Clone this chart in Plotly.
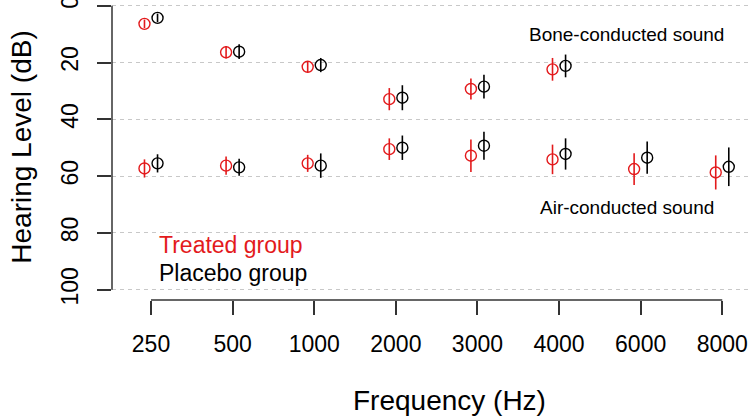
import plotly.graph_objects as go

freq_labels = ["250", "500", "1000", "2000", "3000", "4000", "6000", "8000"]

treated_bone = [6.4, 16.4, 21.5, 32.9, 29.3, 22.4]
treated_bone_err = [1.5, 2.2, 2.0, 3.9, 3.7, 4.0]
placebo_bone = [4.3, 16.2, 20.9, 32.4, 28.5, 21.2]
placebo_bone_err = [1.5, 2.6, 2.5, 4.4, 4.2, 4.0]

treated_air = [57.3, 56.3, 55.5, 50.5, 52.8, 54.1, 57.5, 58.7]
treated_air_err = [3.2, 3.2, 3.0, 3.8, 5.7, 5.2, 5.6, 6.0]
placebo_air = [55.5, 56.9, 56.3, 50.0, 49.3, 52.2, 53.5, 56.7]
placebo_air_err = [3.2, 3.0, 4.3, 4.3, 4.9, 5.5, 5.7, 6.8]

y_ticks = [0, 20, 40, 60, 80, 100]

RED = "#E31A1C"
BLACK = "#000000"
FONT = "Liberation Sans, Arial, Helvetica, sans-serif"
OFF = 0.08

pos = list(range(1, len(freq_labels) + 1))

fig = go.Figure()


def add_series(vals, errs, color, shift):
    xs = [pos[i] + shift for i in range(len(vals))]
    fig.add_trace(go.Scatter(
        x=xs, y=vals, mode="markers",
        marker=dict(symbol="circle-open", size=11, color=color,
                    line=dict(width=1.4, color=color)),
        error_y=dict(type="data", array=errs, visible=True,
                     color=color, thickness=1.6, width=0),
        showlegend=False, hoverinfo="skip",
    ))


add_series(treated_bone, treated_bone_err, RED, -OFF)
add_series(placebo_bone, placebo_bone_err, BLACK, OFF)
add_series(treated_air, treated_air_err, RED, -OFF)
add_series(placebo_air, placebo_air_err, BLACK, OFF)

fig.update_layout(
    width=753, height=416,
    margin=dict(l=112, r=3, t=2, b=116),
    plot_bgcolor="white", paper_bgcolor="white",
    font=dict(family=FONT, color="black"),
    xaxis=dict(
        range=[0.522, 8.34], tickmode="array", tickvals=pos,
        ticktext=freq_labels, ticks="outside", ticklen=14, tickwidth=1.5,
        tickcolor="#333333", showgrid=False, zeroline=False, showline=False,
        tickfont=dict(size=23, family=FONT), ticklabelstandoff=9,
        automargin=False, ticklabeloverflow="allow",
    ),
    yaxis=dict(
        range=[103.6, -1.3], tickmode="array", tickvals=y_ticks,
        ticks="outside", ticklen=14, tickwidth=1.5, tickcolor="#333333",
        showgrid=True, gridcolor="#C8C8C8", griddash="4px,4px", gridwidth=1,
        zeroline=False, showline=False, tickangle=-90,
        tickfont=dict(size=23, family=FONT), ticklabelstandoff=10,
        automargin=False, ticklabeloverflow="allow",
    ),
    shapes=[
        dict(type="line", xref="paper", yref="y", x0=0, x1=0, y0=0, y1=100,
             line=dict(color="#333333", width=1.5)),
        dict(type="line", xref="x", yref="paper", x0=1, x1=8, y0=0, y1=0,
             line=dict(color="#333333", width=1.5)),
    ],
    annotations=[
        dict(text="Bone-conducted sound", x=6.83, y=10.3, xref="x", yref="y",
             showarrow=False, font=dict(size=19, family=FONT, color="black")),
        dict(text="Air-conducted sound", x=6.83, y=70.9, xref="x", yref="y",
             showarrow=False, font=dict(size=19, family=FONT, color="black")),
        dict(text="Treated group", x=1 + (157 - 151) / 81.6, y=84.3,
             xref="x", yref="y", xanchor="left", showarrow=False,
             font=dict(size=23, family=FONT, color=RED)),
        dict(text="Placebo group", x=1 + (157 - 151) / 81.6, y=94.2,
             xref="x", yref="y", xanchor="left", showarrow=False,
             font=dict(size=23, family=FONT, color="black")),
        dict(text="Frequency (Hz)", x=4.66, y=-100 / 298, xref="x", yref="paper",
             yanchor="middle", showarrow=False,
             font=dict(size=28, family=FONT, color="black")),
        dict(text="Hearing Level (dB)", x=(22 - 112) / 638, y=50, xref="paper",
             yref="y", textangle=-90, xanchor="center", yanchor="middle",
             showarrow=False, font=dict(size=28, family=FONT, color="black")),
    ],
)

fig.write_html("out.html", config={"displayModeBar": False},
               post_script="document.body.style.margin='0';document.body.style.padding='0';")
